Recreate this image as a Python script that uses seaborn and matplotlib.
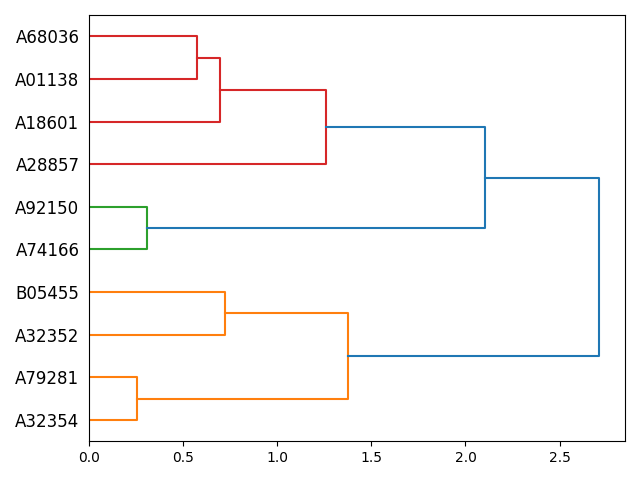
import pandas as pd
import matplotlib
matplotlib.use("Agg")
import matplotlib.pyplot as plt
import seaborn as sns

# листья снизу вверх (порядок дендрограммы)
leaves = ["A32354", "A79281", "A32352", "B05455", "A74166",
          "A92150", "A28857", "A18601", "A01138", "A68036"]

# объединения: левый потомок, правый потомок, высота (новые кластеры 10, 11, ...)
left_child = [0, 2, 10, 4, 8, 7, 6, 13, 12]
right_child = [1, 3, 11, 5, 9, 14, 15, 16, 17]
heights = [0.253, 0.720, 1.376, 0.31, 0.571, 0.693, 1.258, 2.104, 2.712]
groups = ["orange", "orange", "orange", "green", "red", "red", "red", "above", "above"]

palette = {"orange": "#ff7f0e", "green": "#2ca02c", "red": "#d62728", "above": "#1f77b4"}

# позиции листьев как в scipy: 5, 15, 25, ...
pos = {i: 5 + 10 * i for i in range(len(leaves))}
hgt = {i: 0.0 for i in range(len(leaves))}

rows = []
for k, (a, b, h, g) in enumerate(zip(left_child, right_child, heights, groups)):
    node = len(leaves) + k
    pts = [(hgt[a], pos[a]), (h, pos[a]), (h, pos[b]), (hgt[b], pos[b])]
    for j, (x, y) in enumerate(pts):
        rows.append({"x": x, "y": y, "link": k, "group": g, "order": j})
    pos[node] = (pos[a] + pos[b]) / 2
    hgt[node] = h

df = pd.DataFrame(rows)

fig, ax = plt.subplots(figsize=(6.4, 4.8), dpi=100)
sns.lineplot(
    data=df, x="x", y="y", hue="group", units="link",
    estimator=None, sort=False, palette=palette, legend=False,
    linewidth=1.5, ax=ax
)

ax.set_xlim(0, max(heights) * 1.05)
ax.set_ylim(0, 10 * len(leaves))
ax.set_yticks([pos[i] for i in range(len(leaves))])
ax.set_yticklabels(leaves, fontsize=12)
# засечки по оси листьев скрыты, отступ подписей остаётся
for line in ax.get_yticklines():
    line.set_visible(False)
ax.set_xlabel("")
ax.set_ylabel("")

plt.tight_layout()
plt.savefig("out.png", dpi=100)
